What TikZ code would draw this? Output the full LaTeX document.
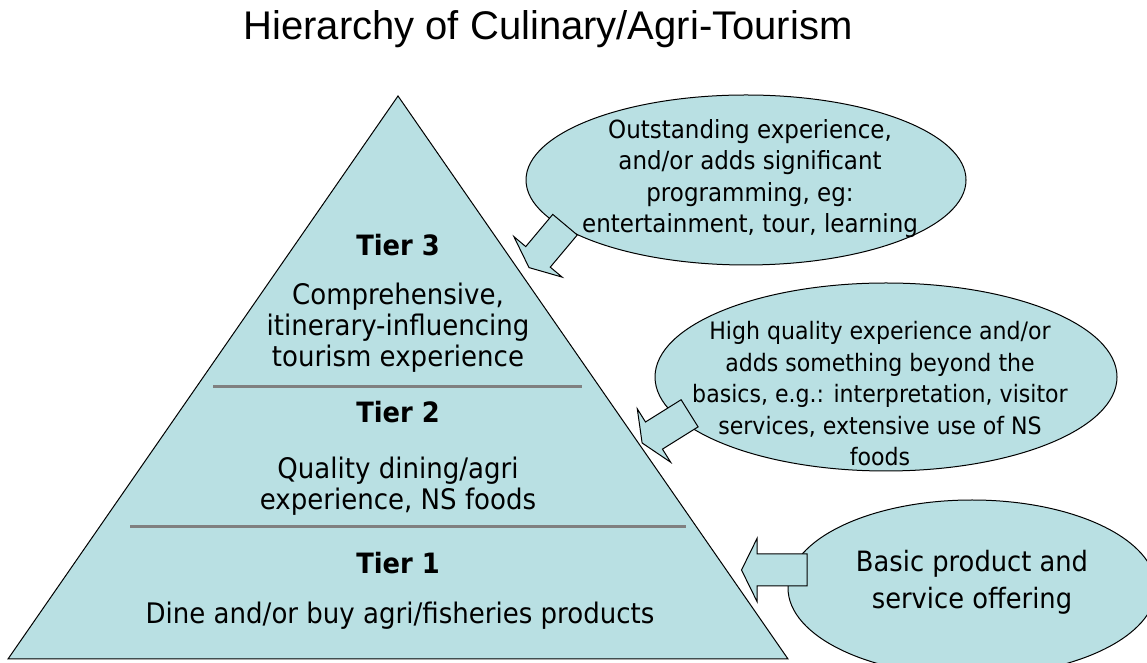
\documentclass[tikz,border=0pt]{standalone}
\usepackage{fontspec}
\setmainfont{DejaVu Sans}[FakeStretch=0.92]
\newfontfamily\headfont{Liberation Sans}
\usetikzlibrary{shapes.geometric}

\definecolor{pyramidblue}{RGB}{185,224,227}
\definecolor{rulegray}{RGB}{128,128,128}

\tikzset{
    bubble/.style={
        ellipse,
        draw=black,
        fill=pyramidblue,
        inner sep=0pt,
    },
    tierhead/.style={
        font=\fontsize{28}{31}\selectfont\bfseries,
    },
    tiertext/.style={
        align=center,
        font=\fontsize{28.3}{31}\selectfont,
    },
    bubbletext/.style={
        align=center,
        font=\fontsize{24}{31.5}\selectfont,
    },
    blockarrow/.style={
        draw=black,
        fill=pyramidblue,
    },
    tierrule/.style={
        draw=rulegray,
        line width=3pt,
    }
}

% fat arrow: tail at #1, heading #2, shaft length #3, head length #4
\newcommand{\fatarrow}[4]{%
    \draw[blockarrow,shift={(#1)},rotate=#2]
        (0,16) -- (#3,16) -- (#3,31.5) -- ({#3+#4},0)
        -- (#3,-31.5) -- (#3,-16) -- (0,-16) -- cycle;
}

\begin{document}
\begin{tikzpicture}[x=1pt,y=1pt,line width=1pt]
    \useasboundingbox (0,0) rectangle (1147,663);
    \clip (0,0) rectangle (1147,663);

    \node[font=\headfont\fontsize{40}{48}\selectfont,anchor=base] (title) at (548,623)
        {Hierarchy of Culinary/Agri-Tourism};

    % pyramid with the two tier rules
    \coordinate (apex) at (398,567);
    \coordinate (baseL) at (8,4);
    \coordinate (baseR) at (788,4);
    \draw[fill=pyramidblue] (apex) -- (baseR) -- (baseL) -- cycle;
    \draw[tierrule] (213,276) -- (582,276);
    \draw[tierrule] (130,136) -- (686,136);

    \node[tierhead] (t3) at (398,418) {Tier 3};
    \node[tiertext] (t3txt) at (398,335) {Comprehensive,\\itinerary-influencing\\tourism experience};
    \node[tierhead] (t2) at (398,251) {Tier 2};
    \node[tiertext] (t2txt) at (398,176.5) {Quality dining/agri\\experience, NS foods};
    \node[tierhead] (t1) at (398,100) {Tier 1};
    \node[tiertext] (t1txt) at (400,47) {Dine and/or buy agri/fisheries products};

    % bubbles
    \node[bubble,minimum width=440pt,minimum height=170pt] (top) at (746,483) {};
    \node[bubble,minimum width=462pt,minimum height=188pt] (mid) at (886,286) {};
    \node[bubble,minimum width=368pt,minimum height=176pt] (low) at (972,75) {};

    % arrows from the bubbles to the pyramid
    \coordinate (a3) at (565,438.3);
    \coordinate (a2) at (689.6,249.7);
    \coordinate (a1) at (807,93);
    \fatarrow{a3}{230}{42}{14}
    \fatarrow{a2}{212}{42}{14}
    \fatarrow{a1}{180}{50}{15.5}

    \node[bubbletext,font=\fontsize{25}{31.5}\selectfont] (toptxt) at (750,484.5)
        {Outstanding experience,\\and/or adds significant\\programming, eg:\\entertainment, tour, learning};
    \node[bubbletext] (midtxt) at (880,269)
        {High quality experience and/or\\adds something beyond the\\basics, e.g.: interpretation, visitor\\services, extensive use of NS\\foods};
    \node[bubbletext,font=\fontsize{28}{37}\selectfont] (lowtxt) at (972,80.5)
        {Basic product and\\service offering};
\end{tikzpicture}
\end{document}
